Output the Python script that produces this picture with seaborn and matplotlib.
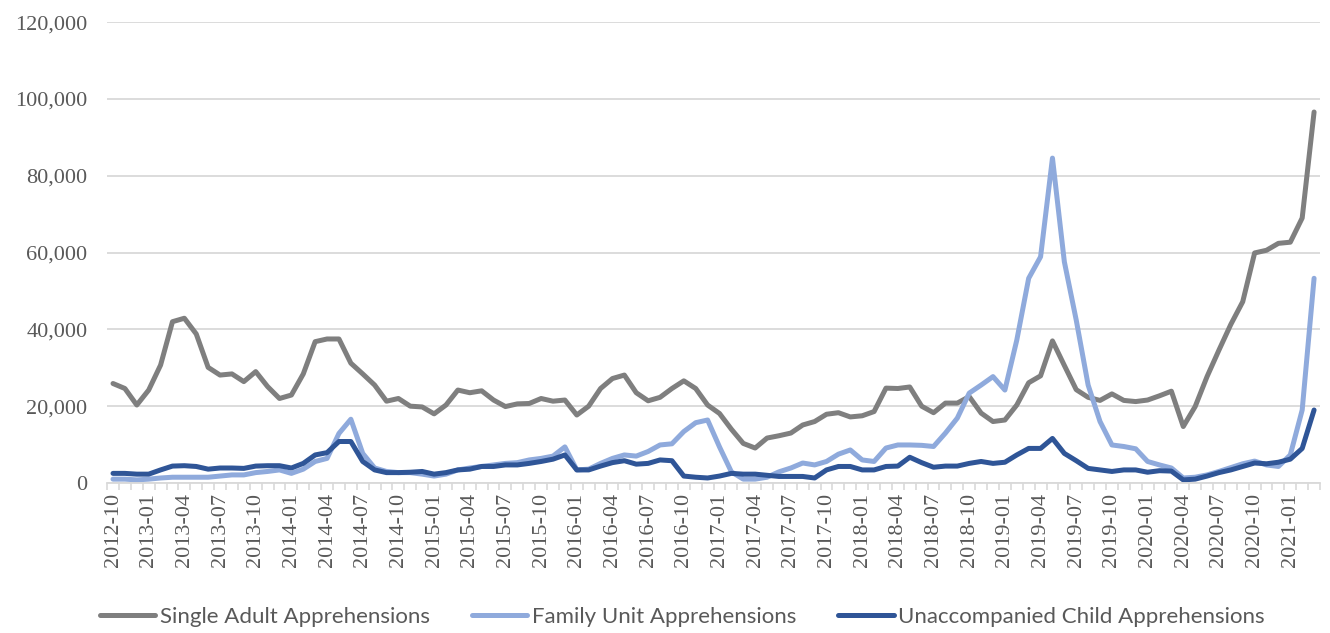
import pandas as pd
import numpy as np
import matplotlib.pyplot as plt
import seaborn as sns

# monthly series, 2012-10 .. 2021-03
months = pd.date_range("2012-10-01", "2021-03-01", freq="MS").strftime("%Y-%m").tolist()

single_adult = [
    25900, 24600, 20300, 24200, 30700, 42000, 42900, 38800, 30100, 28100,
    28400, 26400, 29000, 25100, 22000, 22900, 28400, 36800, 37500, 37500,
    31200, 28400, 25500, 21300, 22000, 20000, 19800, 18000, 20300, 24200,
    23500, 24000, 21600, 19900, 20600, 20700, 22000, 21300, 21600, 17700,
    20000, 24600, 27200, 28100, 23500, 21400, 22300, 24600, 26600, 24600,
    20300, 18100, 14000, 10300, 9100, 11700, 12300, 13000, 15100, 16000,
    17900, 18300, 17200, 17500, 18600, 24700, 24600, 25000, 20000, 18300,
    20800, 20800, 22500, 18200, 16000, 16400, 20300, 26100, 27900, 37000,
    30600, 24300, 22300, 21500, 23200, 21500, 21200, 21600, 22700, 23900,
    14700, 19900, 27700, 34600, 41300, 47200, 59900, 60600, 62400, 62700,
    69000, 96600,
]

family_unit = [
    1000, 1000, 800, 1000, 1300, 1500, 1500, 1500, 1500, 1800,
    2100, 2100, 2700, 3000, 3400, 2500, 3600, 5600, 6400, 12900,
    16600, 7700, 3900, 3000, 2700, 2700, 2300, 1800, 2300, 3400,
    3900, 4300, 4700, 5100, 5300, 6000, 6400, 7000, 9400, 3400,
    3600, 5100, 6400, 7300, 7000, 8200, 9900, 10200, 13400, 15700,
    16400, 9400, 2900, 1000, 1000, 1500, 2900, 3900, 5200, 4700,
    5600, 7500, 8600, 6000, 5600, 9100, 9900, 9900, 9800, 9500,
    13000, 16900, 23400, 25500, 27700, 24200, 37200, 53300, 58900, 84600,
    57600, 42400, 25500, 16000, 9900, 9500, 8900, 5600, 4700, 3900,
    1300, 1500, 2100, 3000, 4000, 5000, 5700, 4700, 4300, 7300,
    19000, 53300,
]

unaccompanied = [
    2500, 2500, 2300, 2300, 3400, 4400, 4500, 4300, 3600, 3900,
    3900, 3800, 4400, 4500, 4500, 3900, 5100, 7300, 7900, 10800,
    10800, 5600, 3400, 2700, 2700, 2800, 3000, 2300, 2700, 3400,
    3600, 4300, 4300, 4700, 4700, 5100, 5600, 6200, 7300, 3400,
    3400, 4400, 5300, 5800, 4900, 5100, 6000, 5800, 1800, 1500,
    1300, 1800, 2500, 2300, 2300, 2000, 1700, 1700, 1700, 1300,
    3400, 4300, 4300, 3400, 3400, 4300, 4400, 6700, 5300, 4100,
    4400, 4400, 5100, 5600, 5100, 5400, 7300, 9000, 9000, 11600,
    7700, 5800, 3800, 3400, 3000, 3400, 3400, 2800, 3200, 3100,
    800, 1000, 1800, 2700, 3400, 4300, 5200, 5000, 5400, 6200,
    9000, 19000,
]

series_names = ["Single Adult Apprehensions", "Family Unit Apprehensions",
                "Unaccompanied Child Apprehensions"]
colors = ["#7f7f7f", "#8faadc", "#2f5597"]

idx = np.arange(len(months))
df = pd.concat([
    pd.DataFrame({"idx": idx, "value": vals, "series": name})
    for name, vals in zip(series_names, [single_adult, family_unit, unaccompanied])
])

sns.set_style("white")
plt.rcParams["font.family"] = ["Liberation Serif", "DejaVu Serif"]

fig = plt.figure(figsize=(13.3, 6.33), dpi=100)
ax = fig.add_axes([0.0805, 0.237, 0.912, 0.728])

sns.lineplot(data=df, x="idx", y="value", hue="series", hue_order=series_names,
             palette=colors, linewidth=3.6, ax=ax, legend=False)

ax.set_xlim(-0.5, len(months) - 0.5)
ax.set_ylim(0, 120000)
ax.set_yticks(np.arange(0, 120001, 20000))
ax.set_yticklabels([f"{v:,}" for v in range(0, 120001, 20000)], fontsize=16, color="#595959")
ax.yaxis.grid(True, color="#d9d9d9", linewidth=1.3)
ax.set_axisbelow(True)

ax.set_xticks(idx[::3])
ax.set_xticklabels(months[::3], rotation=90, fontsize=16, color="#595959")
ax.set_xticks(np.arange(-0.5, len(months), 1), minor=True)
ax.tick_params(axis="x", which="major", length=0, pad=7)
ax.tick_params(axis="x", which="minor", length=5, width=1.2, color="#d9d9d9", direction="out", bottom=True)
ax.tick_params(axis="y", length=0, pad=14)

for s in ["top", "right", "left"]:
    ax.spines[s].set_visible(False)
ax.spines["bottom"].set_color("#d9d9d9")
ax.spines["bottom"].set_linewidth(1.3)
ax.set_xlabel("")
ax.set_ylabel("")

handles = ax.get_lines()[:3]
fig.legend(handles, series_names, loc="center", bbox_to_anchor=(0.513, 0.026), ncol=3,
           frameon=False, handlelength=2.5, handletextpad=0.2, columnspacing=1.9,
           prop={"family": "Lato", "size": 16}, labelcolor="#595959")

fig.savefig("out.png", dpi=100)
